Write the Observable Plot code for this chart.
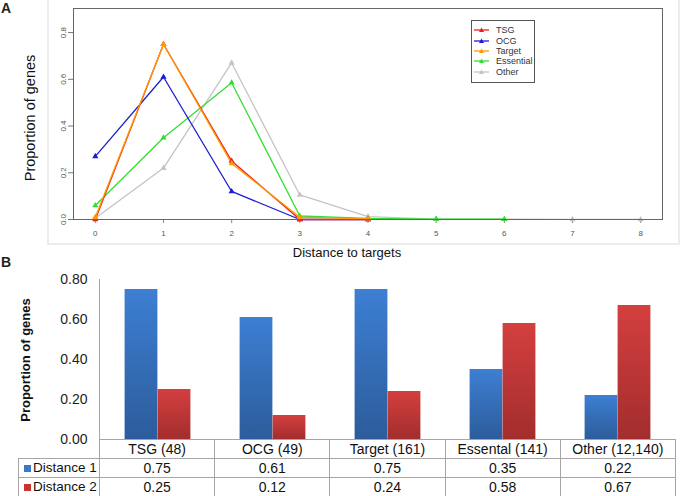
<!DOCTYPE html>
<html>
<head>
<meta charset="utf-8">
<script src="https://cdn.jsdelivr.net/npm/d3@7"></script>
<script src="https://cdn.jsdelivr.net/npm/@observablehq/plot@0.6"></script>
<style>
  body { margin: 0; background: #fff; }
  #root { position: relative; width: 685px; height: 496px; background: #fff; font-family: "Liberation Sans", Arial, sans-serif; color: #222; overflow: hidden; }
  .abs { position: absolute; }
  .rot { transform: translate(-50%, -50%) rotate(-90deg); white-space: nowrap; }
  #legendA { left: 471px; top: 20px; width: 64px; height: 63px; border: 1px solid #555; box-sizing: border-box; background: #fff; font-size: 9px; color: #333; padding-top: 4px; }
  #legendA .item { display: flex; align-items: center; height: 10.4px; }
  #legendA svg { margin-left: 2px; margin-right: 7px; }
  table.tbl { position: absolute; left: 18px; top: 439px; border-collapse: collapse; table-layout: fixed; width: 657px; font-size: 14px; color: #111; }
  table.tbl td { border: 1px solid #a6a6a6; padding: 0; height: 18px; text-align: center; line-height: 18px; white-space: nowrap; overflow: hidden; }
  table.tbl td.blank { border: none; }
  table.tbl td.key { text-align: left; padding-left: 5px; font-size: 13.5px; }
  .sq { display: inline-block; width: 7px; height: 7px; margin-right: 2px; vertical-align: 0px; }
</style>
</head>
<body>
<div id="root">
  <div class="abs" style="left:47px;top:0;width:633px;height:245px;border:2px solid #ececec;border-top:none;box-sizing:border-box"></div>
  <div id="plotA" class="abs" style="left:0;top:0"></div>
  <div id="legendA" class="abs"></div>
  <div class="abs" style="left:1px;top:0px;font-weight:bold;font-size:14px">A</div>
  <div class="abs rot" style="left:30px;top:118px;font-size:14.5px;color:#111">Proportion of genes</div>
  <div class="abs" style="left:347px;top:252px;transform:translate(-50%,-50%);font-size:13px;white-space:nowrap;color:#111">Distance to targets</div>
  <div id="plotB" class="abs" style="left:0;top:250px"></div>
  <div class="abs" style="left:1px;top:254px;font-weight:bold;font-size:14px">B</div>
  <div class="abs rot" style="left:25px;top:360px;font-size:13px;font-weight:bold;color:#111">Proportion of genes</div>
  <div id="tableB"></div>
</div>
<script>
// ---------- Panel A data ----------
const distances = [0, 1, 2, 3, 4, 5, 6, 7, 8];
const seriesNames = ["TSG", "OCG", "Target", "Essential", "Other"];
const seriesColors = ["#ee1c1c", "#1c1cd6", "#ff9a00", "#33dd33", "#c4c4c4"];
const tsgValues = [0.00, 0.75, 0.25, 0.00, 0.00];
const ocgValues = [0.27, 0.61, 0.12, 0.00, 0.00];
const targetValues = [0.01, 0.75, 0.24, 0.01, 0.003];
const essentialValues = [0.06, 0.35, 0.585, 0.015, 0.005, 0.002, 0.001];
const otherValues = [0.005, 0.22, 0.67, 0.105, 0.012, 0.002, 0.001, 0.0005, 0.0002];
const yTicksA = [0, 0.2, 0.4, 0.6, 0.8];
const drawOrder = ["Other", "Essential", "OCG", "TSG", "Target"];

// ---------- Panel B data ----------
const barCategories = ["TSG (48)", "OCG (49)", "Target (161)", "Essental (141)", "Other (12,140)"];
const barSeries = ["Distance 1", "Distance 2"];
const distance1 = [0.75, 0.61, 0.75, 0.35, 0.22];
const distance2 = [0.25, 0.12, 0.24, 0.58, 0.67];
const yTicksB = [0, 0.2, 0.4, 0.6, 0.8];

// ---------- Panel A ----------
const valuesBySeries = {TSG: tsgValues, OCG: ocgValues, Target: targetValues, Essential: essentialValues, Other: otherValues};
const lineData = drawOrder.flatMap(name =>
  valuesBySeries[name].map((v, i) => ({series: name, distance: distances[i], value: v})));

const plotA = Plot.plot({
  width: 685, height: 250,
  marginLeft: 73, marginRight: 23, marginTop: 8, marginBottom: 31,
  style: {fontFamily: "Liberation Sans, Arial, sans-serif", background: "transparent", color: "#555"},
  x: {domain: [-0.32, 8.32], label: null},
  y: {domain: [0, 0.903], label: null},
  color: {domain: seriesNames, range: seriesColors},
  marks: [
    Plot.axisX({ticks: distances, tickSize: 4, tickPadding: 7, fontSize: 8, tickFormat: d => String(d), stroke: "#888"}),
    Plot.axisY({ticks: yTicksA, tickSize: 5, tickPadding: 3, tickRotate: -90, fontSize: 8, tickFormat: d => d.toFixed(1), stroke: "#777"}),
    Plot.line(lineData, {x: "distance", y: "value", z: "series", stroke: "series", strokeWidth: 1.3}),
    Plot.dot(lineData, {x: "distance", y: "value", fill: "series", symbol: "triangle", r: 2.3}),
    Plot.frame({stroke: "#666"})
  ]
});
document.getElementById("plotA").appendChild(plotA);

// legend A
const leg = document.getElementById("legendA");
seriesNames.forEach((name, i) => {
  const c = seriesColors[i];
  const item = document.createElement("div");
  item.className = "item";
  item.innerHTML = `<svg width="15" height="8"><line x1="0" x2="15" y1="4" y2="4" stroke="${c}" stroke-width="1.3"/><path d="M7.5,1.5 L10,6 L5,6 Z" fill="${c}"/></svg><span>${name}</span>`;
  leg.appendChild(item);
});

// ---------- Panel B ----------
const barRows = barCategories.map((c, i) => ({cat: c, d1: distance1[i], d2: distance2[i]}));
const plotB = Plot.plot({
  width: 685, height: 246,
  marginLeft: 99, marginRight: 10, marginTop: 29, marginBottom: 57,
  style: {fontFamily: "Liberation Sans, Arial, sans-serif", background: "transparent", color: "#222"},
  x: {domain: barCategories, padding: 0, axis: null},
  y: {domain: [0, 0.8], label: null},
  marks: [
    Plot.axisY({ticks: yTicksB, tickSize: 0, tickPadding: 12, fontSize: 14, tickFormat: d => d.toFixed(2)}),
    Plot.frame({anchor: "left", stroke: "#a6a6a6"}),
    Plot.barY(barRows, {x: "cat", y: "d1", fill: "url(#gradBlue)", insetLeft: 24.6, insetRight: 57.6}),
    Plot.barY(barRows, {x: "cat", y: "d2", fill: "url(#gradRed)", insetLeft: 57.6, insetRight: 24.6})
  ]
});
const defs = d3.select(plotB).insert("defs", ":first-child");
function grad(id, top, bottom) {
  const g = defs.append("linearGradient").attr("id", id).attr("x1", 0).attr("y1", 0).attr("x2", 0).attr("y2", 1);
  g.append("stop").attr("offset", 0).attr("stop-color", top);
  g.append("stop").attr("offset", 1).attr("stop-color", bottom);
}
grad("gradBlue", "#3d7fd3", "#2c5c9b");
grad("gradRed", "#d43f3f", "#a32d2d");
document.getElementById("plotB").appendChild(plotB);

// table under panel B
const keyColors = ["#3a78c8", "#c83434"];
const seriesVals = [distance1, distance2];
let html = `<table class="tbl"><colgroup><col style="width:81px">${barCategories.map(() => '<col style="width:115.2px">').join("")}</colgroup>`;
html += `<tr><td class="blank"></td>${barCategories.map(c => `<td>${c}</td>`).join("")}</tr>`;
barSeries.forEach((s, k) => {
  html += `<tr><td class="key"><span class="sq" style="background:${keyColors[k]}"></span>${s}</td>${seriesVals[k].map(v => `<td>${v.toFixed(2)}</td>`).join("")}</tr>`;
});
html += `</table>`;
document.getElementById("tableB").innerHTML = html;
</script>
</body>
</html>
